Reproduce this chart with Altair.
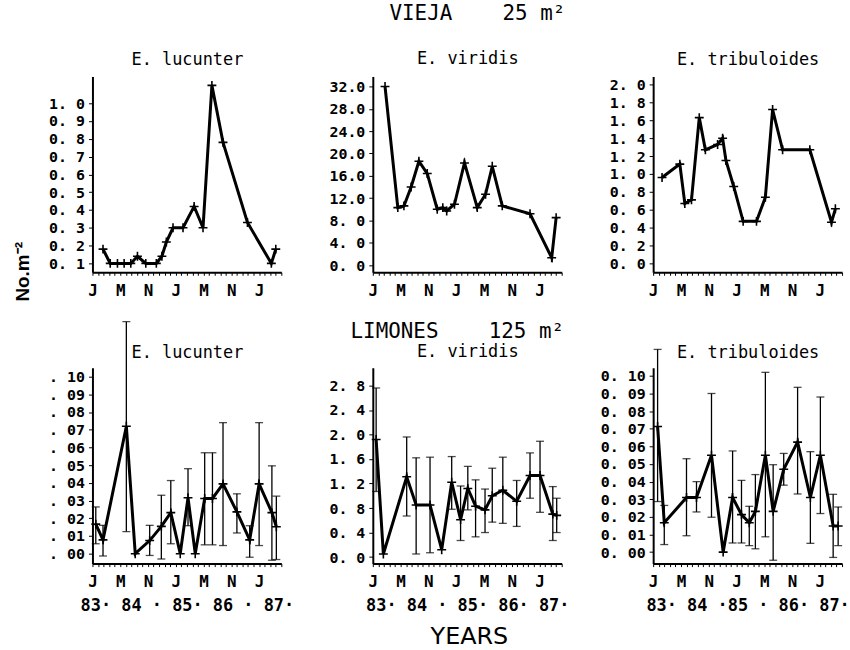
import json
import altair as alt
import pandas as pd

# ---------------- data ----------------
X_TICK_LABELS = ["J", "M", "N", "J", "M", "N", "J"]

# VIEJA 25 m2
TL_X = [1.9, 3.2, 4.5, 5.7, 6.9, 8.1, 9.6, 11.5, 12.5, 13.3, 14.5, 16.3, 18.3, 19.9, 21.5, 23.5, 27.9, 32.2, 33.0]
TL_Y = [0.18, 0.10, 0.10, 0.10, 0.10, 0.14, 0.10, 0.10, 0.14, 0.22, 0.30, 0.30, 0.42, 0.30, 1.10, 0.78, 0.33, 0.10, 0.18]

TM_X = [2.2, 4.5, 5.6, 6.9, 8.3, 9.8, 11.6, 12.6, 13.3, 14.7, 16.5, 18.8, 20.3, 21.5, 23.3, 28.3, 32.2, 33.0]
TM_Y = [32.0, 10.3, 10.6, 14.0, 18.6, 16.4, 10.0, 10.3, 9.7, 10.9, 18.3, 10.3, 12.7, 17.7, 10.6, 9.2, 1.3, 8.5]

TR_X = [1.6, 4.8, 5.7, 6.9, 8.3, 9.4, 11.6, 12.5, 13.1, 14.5, 16.2, 18.6, 20.2, 21.5, 23.3, 28.2, 32.1, 32.8]
TR_Y = [0.96, 1.11, 0.67, 0.71, 1.63, 1.27, 1.33, 1.40, 1.15, 0.86, 0.47, 0.47, 0.74, 1.72, 1.27, 1.27, 0.46, 0.61]

# LIMONES 125 m2 (mean, lower and upper end of the error bar)
BL_X = [0.6, 1.9, 6.1, 7.7, 10.3, 12.4, 14.1, 15.8, 17.2, 18.5, 20.2, 21.6, 23.5, 26.0, 28.3, 30.0, 32.3, 33.1]
BL_Y = [0.0167, 0.0078, 0.072, 0.0, 0.0074, 0.0154, 0.0232, 0.0, 0.0316, 0.0, 0.0312, 0.0312, 0.0394, 0.0236, 0.0078, 0.0394, 0.0232, 0.0152]
BL_LO = [0.0056, -0.0013, 0.0125, None, -0.001, -0.003, 0.0056, None, 0.0158, None, 0.005, 0.005, 0.0046, 0.0117, -0.002, 0.0046, -0.0037, -0.0033]
BL_HI = [0.0264, 0.016, 0.131, None, 0.016, 0.033, 0.0413, None, 0.048, None, 0.057, 0.057, 0.074, 0.0338, 0.0158, 0.074, 0.0496, 0.0325]

BM_X = [0.6, 1.9, 6.1, 7.8, 10.3, 12.4, 14.2, 15.8, 17.1, 18.5, 20.2, 21.5, 23.4, 25.9, 28.3, 30.1, 32.4, 33.1]
BM_Y = [1.92, 0.05, 1.31, 0.85, 0.85, 0.12, 1.22, 0.61, 1.12, 0.83, 0.77, 1.00, 1.09, 0.91, 1.33, 1.33, 0.70, 0.68]
BM_LO = [1.07, None, 0.67, 0.05, 0.07, None, 0.78, 0.27, 0.77, 0.33, 0.40, 0.57, 0.55, 0.50, 0.96, 0.73, 0.27, 0.40]
BM_HI = [2.76, None, 1.96, 1.62, 1.63, None, 1.64, 1.16, 1.48, 1.26, 1.11, 1.45, 1.63, 1.25, 1.70, 1.89, 1.15, 0.96]

BR_X = [0.8, 2.0, 6.0, 7.8, 10.5, 12.6, 14.3, 15.9, 17.3, 18.4, 20.2, 21.6, 23.5, 26.0, 28.3, 30.1, 32.4, 33.3]
BR_Y = [0.0713, 0.0167, 0.031, 0.031, 0.055, 0.0, 0.031, 0.0213, 0.0167, 0.0231, 0.055, 0.0231, 0.047, 0.0624, 0.031, 0.055, 0.0148, 0.0148]
BR_LO = [0.0287, 0.0043, 0.0093, 0.0228, 0.0198, None, 0.0052, 0.0052, 0.0037, 0.0019, 0.0087, -0.0046, 0.038, 0.033, 0.005, 0.0219, -0.003, 0.0037]
BR_HI = [0.115, 0.0265, 0.053, 0.040, 0.090, None, 0.0574, 0.0407, 0.026, 0.044, 0.102, 0.0496, 0.056, 0.0935, 0.057, 0.088, 0.0328, 0.0256]

YEAR_ROW = ["83\u00b7 84 \u00b7 85\u00b7 86 \u00b7 87\u00b7",
            "83\u00b7 84 \u00b7 85\u00b7 86\u00b7 87\u00b7",
            "83\u00b7 84 \u00b785 \u00b7 86\u00b7 87\u00b7"]

# ---------------- styling ----------------
MONO = "DejaVu Sans Mono"
W, H = 190, 197
X_DOMAIN = [0, 34]
CROSS = "M-1,0L1,0M0,-1L0,1"
NB = "\u00a0"

x_label_expr = ("(datum.value % 5 == 0 && datum.value <= 30) ? "
                + json.dumps(X_TICK_LABELS) + "[datum.value / 5] : ''")


def panel(title, xs, ys, ydomain, yticks, ylabel_expr, lo=None, hi=None,
          xtitle=None, title_y=-12, left_title=None, chart_title=None):
    data = {"x": xs, "y": ys}
    if lo is not None:
        data["lo"] = lo
        data["hi"] = hi
    df = pd.DataFrame(data)

    xaxis_kw = dict(values=list(range(0, 35)), labelExpr=x_label_expr,
                    tickSize=3, labelFont=MONO, labelFontSize=16,
                    labelFontWeight="bold", labelColor="black",
                    labelPadding=7, domainColor="black", domainWidth=2,
                    tickColor="black", grid=False, labelFlush=False)
    if xtitle is not None:
        xaxis_kw.update(title=xtitle, titleFont=MONO, titleFontSize=17,
                        titleFontWeight="bold", titlePadding=8,
                        titleColor="black")
    elif left_title is not None:
        # rotated "No.m-2" label placed to the left of the panel
        xaxis_kw.update(title=left_title, titleFont="Liberation Sans",
                        titleFontSize=19, titleFontWeight="bold",
                        titleColor="black", titleAngle=270,
                        titleX=-70, titleY=-1, titleAlign="center",
                        titleBaseline="middle")
    else:
        xaxis_kw.update(title=None)
    x_axis = alt.Axis(**xaxis_kw)
    # panel name is drawn as the y-axis title, centred above the plot
    y_axis = alt.Axis(values=yticks, labelExpr=ylabel_expr, title=title,
                      titleFont=MONO, titleFontSize=17, titleFontWeight="normal",
                      titleColor="black", titleAngle=0, titleX=W / 2,
                      titleY=title_y, titleAlign="center",
                      titleBaseline="alphabetic",
                      tickSize=4, labelFont=MONO, labelFontSize=15,
                      labelFontWeight="bold", labelColor="black",
                      labelPadding=4, domainColor="black", domainWidth=2,
                      tickColor="black", grid=False, labelFlush=False)

    xs_scale = alt.Scale(domain=X_DOMAIN, nice=False, zero=False)
    ys_scale = alt.Scale(domain=ydomain, nice=False, zero=False)

    def X(f):
        return alt.X(f, scale=xs_scale, axis=x_axis)

    def Y(f):
        return alt.Y(f, scale=ys_scale, axis=y_axis)

    base = alt.Chart(df)
    line = base.mark_line(color="black", strokeWidth=3, strokeJoin="miter").encode(
        x=X("x:Q"), y=Y("y:Q"))
    pts = base.mark_point(shape=CROSS, size=80, strokeWidth=1.6,
                          color="black", filled=False, opacity=1).encode(
        x=X("x:Q"), y=Y("y:Q"))
    layers = [line, pts]
    if lo is not None:
        eb = base.transform_filter("datum.lo != null")
        rule = eb.mark_rule(color="black", strokeWidth=1.3).encode(
            x=X("x:Q"), y=Y("lo:Q"), y2="hi:Q")
        cap_lo = eb.mark_tick(color="black", orient="horizontal", size=8,
                              thickness=1.3).encode(x=X("x:Q"), y=Y("lo:Q"))
        cap_hi = eb.mark_tick(color="black", orient="horizontal", size=8,
                              thickness=1.3).encode(x=X("x:Q"), y=Y("hi:Q"))
        layers = [rule, cap_lo, cap_hi, line, pts]

    props = dict(width=W, height=H)
    if chart_title is not None:
        props["title"] = alt.TitleParams(chart_title, font=MONO, fontSize=21,
                                         fontWeight="normal", color="black",
                                         anchor="middle", offset=1, dx=-10)
    return alt.layer(*layers).properties(**props)


def lab(fmt, strip_zero=False):
    s = "format(datum.value, '%s')" % fmt
    if strip_zero:
        s = "replace(%s, '0.', '.')" % s
    return "datum.value < 10 ? replace(%s, '.', '. ') : %s" % (s, s)


tl = panel("E. lucunter", TL_X, TL_Y, [0.05, 1.15],
           [round(0.1 * i, 1) for i in range(1, 11)], lab(".1f"),
           title_y=-12, left_title="No.m\u207b\u00b2")
tm = panel("E. viridis", TM_X, TM_Y, [-1.3, 33.8],
           [4.0 * i for i in range(0, 9)], lab(".1f"), title_y=-13)
tr = panel("E. tribuloides", TR_X, TR_Y, [-0.1, 2.09],
           [round(0.2 * i, 1) for i in range(0, 11)], lab(".1f"), title_y=-12)

bl = panel("E. lucunter", BL_X, BL_Y, [-0.0056, 0.105],
           [round(0.01 * i, 2) for i in range(0, 11)], lab(".2f", True),
           lo=BL_LO, hi=BL_HI, xtitle=YEAR_ROW[0], title_y=-10)
bm = panel("E. viridis", BM_X, BM_Y, [-0.107, 3.09],
           [round(0.4 * i, 1) for i in range(0, 8)], lab(".1f"),
           lo=BM_LO, hi=BM_HI, xtitle=YEAR_ROW[1], title_y=-11,
           chart_title="LIMONES" + NB * 4 + "125 m\u00b2")
br = panel("E. tribuloides", BR_X, BR_Y, [-0.0065, 0.1046],
           [round(0.01 * i, 2) for i in range(0, 11)], lab(".2f"),
           lo=BR_LO, hi=BR_HI, xtitle=YEAR_ROW[2], title_y=-10)

grid = alt.concat(tl, tm, tr, bl, bm, br, columns=3,
                  spacing={"row": 96, "column": 92}, bounds="flush").properties(
    title=alt.TitleParams("VIEJA" + NB * 4 + "25 m\u00b2", font=MONO,
                          fontSize=21, fontWeight="normal", color="black",
                          anchor="middle", offset=26, dx=46))

chart = alt.vconcat(grid).properties(
    title=alt.TitleParams("YEARS", orient="bottom", font="DejaVu Sans",
                          fontSize=24, fontWeight="normal", color="black",
                          anchor="middle", offset=12, dx=38),
    padding={"left": 14, "top": 1, "right": 0, "bottom": 0},
).configure_view(strokeWidth=0, stroke="transparent")

chart.save("out.html", embed_options={"renderer": "svg", "actions": False})
